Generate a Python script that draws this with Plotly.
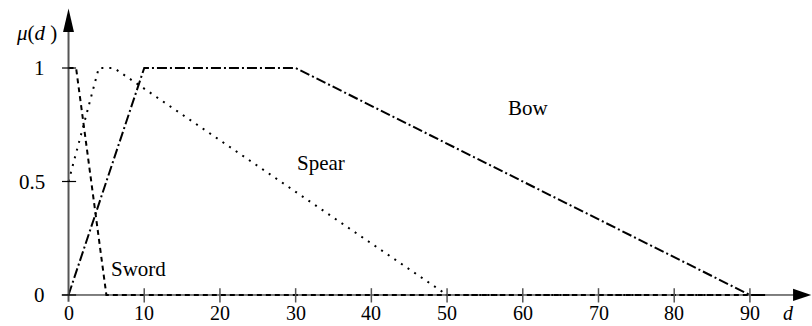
import plotly.graph_objects as go

# membership functions (distance d -> mu(d))
sword_x = [0, 1, 5, 92]
sword_y = [1, 1, 0, 0]
spear_x = [0, 4, 6, 50, 92]
spear_y = [0.5, 1, 1, 0, 0]
bow_x = [0, 10, 30, 90, 92]
bow_y = [0, 1, 1, 0, 0]

x_ticks = [10, 20, 30, 40, 50, 60, 70, 80, 90]
x_tick_labels = ["0", "10", "20", "30", "40", "50", "60", "70", "80", "90"]
x_label_pos = [0] + x_ticks
y_ticks = [0, 0.5, 1]
y_tick_labels = ["0", "0.5", "1"]

series_names = ["Sword", "Spear", "Bow"]
name_pos = [(9.3, 0.115), (33.4, 0.58), (60.7, 0.824)]

FONT = "Liberation Serif, Times New Roman, serif"
AXIS = "#555555"
INK = "#000000"

fig = go.Figure()
fig.add_trace(go.Scatter(x=sword_x, y=sword_y, mode="lines",
                         line=dict(color=INK, width=2, dash="5px,4px")))
fig.add_trace(go.Scatter(x=spear_x, y=spear_y, mode="lines",
                         line=dict(color=INK, width=2, dash="2px,6px")))
fig.add_trace(go.Scatter(x=bow_x, y=bow_y, mode="lines",
                         line=dict(color=INK, width=2, dash="10px,3px,2px,3px")))

shapes = []
# axes
shapes.append(dict(type="line", x0=-0.9, x1=96, y0=0, y1=0, line=dict(color=INK, width=1)))
shapes.append(dict(type="line", x0=0, x1=0, y0=-0.03, y1=1.17, line=dict(color=AXIS, width=2)))
# arrow heads
shapes.append(dict(type="path", path="M 95.7,-0.027 L 98.1,0 L 95.7,0.027 Z",
                   fillcolor=INK, line=dict(color=INK, width=0)))
shapes.append(dict(type="path", path="M -0.72,1.159 L 0,1.262 L 0.72,1.159 Z",
                   fillcolor=INK, line=dict(color=INK, width=0)))
# ticks
for t in x_ticks:
    shapes.append(dict(type="line", x0=t, x1=t, y0=-0.033, y1=0.03, line=dict(color=AXIS, width=1.5)))
for t in y_ticks:
    shapes.append(dict(type="line", x0=-0.86, x1=1.0, y0=t, y1=t, line=dict(color=INK, width=1.2)))

ann = []
for t, lab in zip(x_label_pos, x_tick_labels):
    ann.append(dict(x=t, y=-0.1366, text=lab, showarrow=False, xanchor="center", yanchor="bottom",
                    font=dict(size=20)))
for t, lab in zip(y_ticks, y_tick_labels):
    ann.append(dict(x=-2.9, y=t, text=lab, showarrow=False, xanchor="right", yanchor="middle"))
for name, (px, py) in zip(series_names, name_pos):
    ann.append(dict(x=px, y=py, text=name, showarrow=False, xanchor="center", yanchor="middle"))
ann.append(dict(x=-4.2, y=1.155, text="<i>μ</i>(<i>d</i> )", showarrow=False,
                xanchor="center", yanchor="middle"))
ann.append(dict(x=95.05, y=-0.1366, text="<i>d</i>", showarrow=False,
                xanchor="center", yanchor="bottom", font=dict(size=20)))

fig.update_layout(
    width=812, height=326,
    margin=dict(l=0, r=0, t=0, b=0),
    paper_bgcolor="white", plot_bgcolor="white",
    showlegend=False,
    font=dict(family=FONT, size=21, color=INK),
    xaxis=dict(range=[-9.05, 98.2], visible=False, fixedrange=True),
    yaxis=dict(range=[-0.1366, 1.2996], visible=False, fixedrange=True),
    shapes=shapes,
    annotations=ann,
)

# drop the default page margin so the figure fills the window exactly
fig.write_html("out.html", config={"displayModeBar": False},
               post_script="document.body.style.margin='0';document.body.style.overflow='hidden';")
